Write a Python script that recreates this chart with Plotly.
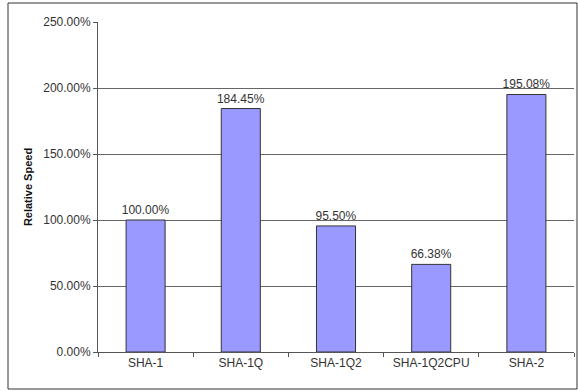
import plotly.graph_objects as go

categories = ["SHA-1", "SHA-1Q", "SHA-1Q2", "SHA-1Q2CPU", "SHA-2"]
speeds = [100.00, 184.45, 95.50, 66.38, 195.08]
labels = [f"{v:.2f}%" for v in speeds]
y_ticks = [0, 50, 100, 150, 200, 250]
y_ticktext = [f"{v:.2f}%" for v in y_ticks]

W, H = 578, 391
L, R, T, B = 98, 4, 22, 39
pw, ph = W - L - R, H - T - B

fig = go.Figure(go.Bar(
    x=categories, y=speeds, text=labels, textposition="outside",
    textfont=dict(family="Liberation Sans, Arial", size=12, color="#333333"),
    marker=dict(color="#9999FF", line=dict(color="#333333", width=1)),
    cliponaxis=False,
))

fig.update_layout(
    width=W, height=H,
    margin=dict(l=L, r=R, t=T, b=B),
    paper_bgcolor="white", plot_bgcolor="white",
    bargap=0.59, showlegend=False,
    uniformtext=dict(minsize=12, mode="show"),
    font=dict(family="Liberation Sans, Arial", size=12, color="#333333"),
)
fig.update_yaxes(
    range=[0, 250], tickvals=y_ticks, ticktext=y_ticktext,
    showgrid=True, gridcolor="#666666", gridwidth=1,
    showline=True, linecolor="#555555", linewidth=1,
    ticks="outside", ticklen=4, tickcolor="#555555",
    title=dict(text="<b>Relative Speed</b>", font=dict(size=11, color="#111111"), standoff=8),
    zeroline=False, fixedrange=True,
)
fig.update_xaxes(
    showline=True, linecolor="#555555", linewidth=1,
    ticks="outside", ticklen=4, tickcolor="#555555", tickson="boundaries",
    showgrid=False,
)

# outer chart border
fig.add_shape(type="rect", xref="paper", yref="paper",
              x0=(8 - L) / pw, x1=(577 - L) / pw,
              y0=(T + ph - 389) / ph, y1=(T + ph - 3) / ph,
              line=dict(color="#333333", width=1), fillcolor="rgba(0,0,0,0)", layer="below")

fig.write_html("out.html")
